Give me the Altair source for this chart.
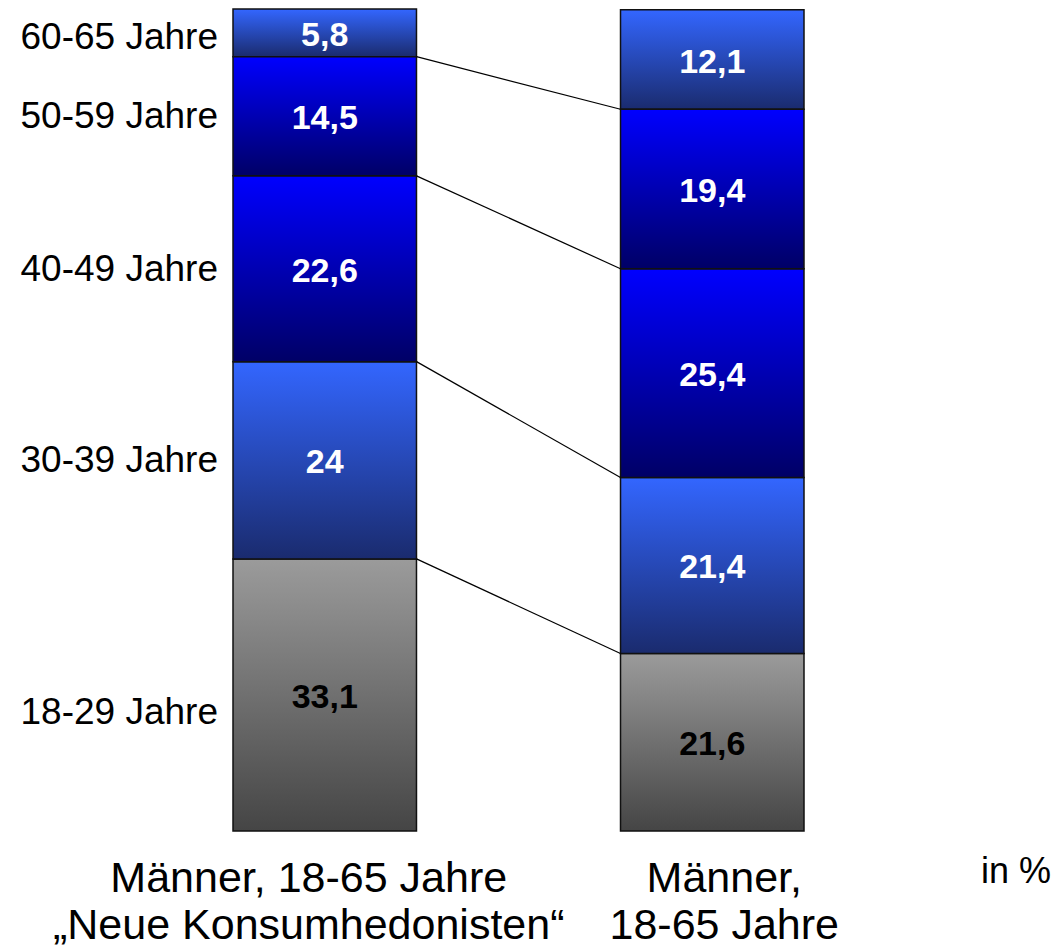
import altair as alt
import pandas as pd

# ---- data -------------------------------------------------------------
groups = ["Neue Konsumhedonisten", "Männer gesamt"]
group_labels = ["Männer, 18-65 Jahre|„Neue Konsumhedonisten“", "Männer,|18-65 Jahre"]
ages = ["18-29 Jahre", "30-39 Jahre", "40-49 Jahre", "50-59 Jahre", "60-65 Jahre"]
shares_hedonisten = [33.1, 24.0, 22.6, 14.5, 5.8]
shares_maenner = [21.6, 21.4, 25.4, 19.4, 12.1]
tones = ["grau", "hellblau", "blau", "blau", "hellblau"]
unit_note = ["in %"]

# ---- tables built from the arrays ----------------------------------
rows = []
cums = {}
for g, vals in zip(groups, [shares_hedonisten, shares_maenner]):
    lo = 0.0
    cums[g] = []
    for a, v, t in zip(ages, vals, tones):
        hi = lo + v
        rows.append(dict(group=g, age=a, value=v, lo=lo, hi=hi, mid=(lo + hi) / 2,
                         label=f"{v:g}".replace(".", ","), tone=t))
        cums[g].append(hi)
        lo = hi
bars = pd.DataFrame(rows)

links = pd.DataFrame({
    "von": [groups[0]] * (len(ages) - 1),
    "nach": [groups[1]] * (len(ages) - 1),
    "y": cums[groups[0]][:-1],
    "y2": cums[groups[1]][:-1],
})
group_df = pd.DataFrame({"group": groups, "text": group_labels})
note_df = pd.DataFrame({"text": unit_note})

FONT = "Liberation Sans, Arial, sans-serif"

xscale = alt.Scale(domain=groups, paddingInner=0.5265, paddingOuter=0, round=False)
yscale = alt.Scale(domain=[0, 100], nice=False, zero=True)


def grad(top, bottom):
    return alt.Gradient(
        gradient="linear",
        stops=[alt.GradientStop(color=top, offset=0), alt.GradientStop(color=bottom, offset=1)],
        x1=0, x2=0, y1=0, y2=1,
    )


fills = {
    "grau": grad("#9b9b9b", "#454545"),
    "hellblau": grad("#3366ff", "#1a2b6e"),
    "blau": grad("#0000ff", "#000066"),
}

base = alt.Chart(bars)
bar_layers = []
for t, g in fills.items():
    bar_layers.append(
        base.transform_filter(alt.datum.tone == t)
        .mark_bar(fill=g, stroke="#111111", strokeWidth=1.5)
        .encode(
            x=alt.X("group:N", scale=xscale, axis=None),
            y=alt.Y("lo:Q", scale=yscale, axis=None),
            y2="hi:Q",
        )
    )

rules = alt.Chart(links).mark_rule(color="black", strokeWidth=1.2).encode(
    x=alt.X("von:N", scale=xscale, axis=None, bandPosition=1),
    x2=alt.X2("nach:N", bandPosition=0),
    y=alt.Y("y:Q", scale=yscale, axis=None),
    y2="y2:Q",
)

values = base.mark_text(font=FONT, fontSize=34, fontWeight="bold", baseline="middle", dy=3).encode(
    x=alt.X("group:N", scale=xscale, axis=None),
    y=alt.Y("mid:Q", scale=yscale, axis=None),
    text="label:N",
    color=alt.condition(alt.datum.tone == "grau", alt.value("black"), alt.value("white")),
)

# age labels left of the first bar; the top and bottom label sit a bit lower
label_shift = {"18-29 Jahre": 18, "60-65 Jahre": 5}
age_layers = []
for cond, dy in [
    ((alt.datum.age != "18-29 Jahre") & (alt.datum.age != "60-65 Jahre"), 1),
    (alt.datum.age == "18-29 Jahre", label_shift["18-29 Jahre"]),
    (alt.datum.age == "60-65 Jahre", label_shift["60-65 Jahre"]),
]:
    age_layers.append(
        base.transform_filter(alt.datum.group == groups[0]).transform_filter(cond).mark_text(
            font=FONT, fontSize=37, align="right", baseline="middle", dx=-15, dy=dy, color="black"
        ).encode(
            x=alt.X("group:N", scale=xscale, axis=None, bandPosition=0),
            y=alt.Y("mid:Q", scale=yscale, axis=None),
            text="age:N",
        )
    )

group_layers = []
for g, dx in zip(groups, [-16, 12]):
    group_layers.append(
        alt.Chart(group_df).transform_filter(alt.datum.group == g).mark_text(
            font=FONT, fontSize=43, align="center", baseline="alphabetic", lineBreak="|",
            lineHeight=47, color="black", dx=dx
        ).encode(
            x=alt.X("group:N", scale=xscale, axis=None),
            y=alt.value(883),
            text="text:N",
        )
    )

note = alt.Chart(note_df).mark_text(
    font=FONT, fontSize=36, align="center", baseline="alphabetic", color="black"
).encode(x=alt.value(783), y=alt.value(874), text="text:N")

chart = alt.layer(*bar_layers, rules, values, *age_layers, *group_layers, note).properties(
    width=571,
    height=822,
    padding={"left": 225, "top": 1, "right": 249, "bottom": 118},
    autosize=alt.AutoSizeParams(type="none"),
).configure_view(stroke=None)

chart.save("out.html", embed_options={"renderer": "svg", "actions": False})
